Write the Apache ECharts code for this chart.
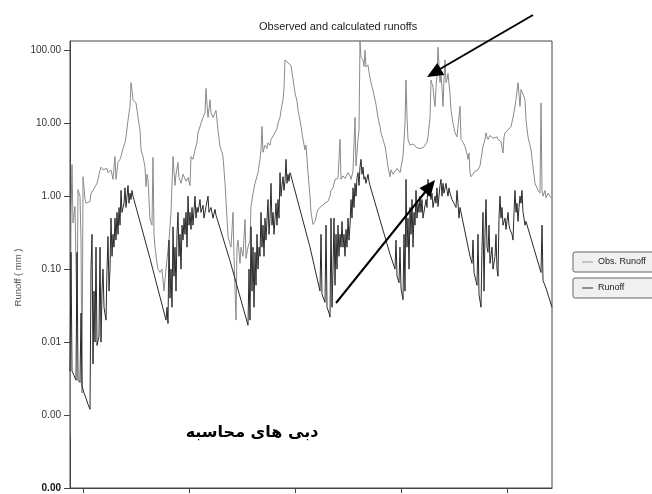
<!DOCTYPE html>
<html>
<head>
<meta charset="utf-8">
<script src="https://cdn.jsdelivr.net/npm/echarts@6/dist/echarts.min.js"></script>
<style>
  html, body { margin: 0; padding: 0; background: #fff; }
  #chart { width: 652px; height: 494px; }
</style>
</head>
<body>
<div id="chart"></div>
<script>
// Observed daily runoff (mm), [day, value]
const obsRunoff = [
  [0,0.0005],[5,0.53],[10,2.7],[15,0.43],[25,0.72],[35,0.02],[40,1.23],[50,1.0],[55,0.25],[60,0.002],[65,1.85],[75,0.9],[80,0.8],[90,0.8],[100,0.85],[105,1.1],[115,1.2],[125,1.25],[135,1.5],[140,1.7],[145,2.0],[155,2.5],[165,2.3],[175,2.2],[185,2.4],[190,2.1],[200,2.2],[205,2.3],[215,1.7],[225,3.5],[230,1.7],[240,2.9],[250,3.2],[255,3.5],[265,4.5],[275,5.4],[280,6.5],[290,11],[300,17],[305,36],[310,28],[315,21],[320,22],[330,19],[340,12],[350,8.1],[355,4.3],[365,3.5],[375,2.5],[380,1.36],[385,2.0],[390,1.7],[400,0.48],[410,0.4],[415,3.4],[420,0.3],[425,0.2],[435,0.12],[440,0.1],[450,0.09],[460,0.1],[470,0.05],[480,0.1],[490,0.1],[495,0.25],[505,0.6],[515,3.5],[525,1.4],[530,2.0],[540,2.9],[545,1.8],[555,1.5],[565,2.0],[575,2.1],[580,1.6],[590,1.8],[600,1.4],[605,3.5],[615,3.2],[625,4.3],[635,5.5],[640,7.4],[650,9],[655,10],[665,12],[675,13.8],[680,30],[685,18],[690,12],[700,21],[705,14],[715,12],[720,13],[730,15],[740,8],[750,4.8],[760,4.0],[765,3.5],[775,1.5],[785,0.5],[790,0.28],[800,0.22],[805,0.2],[815,0.6],[820,0.15],[830,0.02],[835,0.2],[840,0.25],[850,0.12],[855,0.2],[865,0.15],[875,0.48],[880,0.14],[890,0.2],[900,0.25],[905,0.72],[915,1.1],[925,1.5],[940,2.1],[950,3.2],[955,4.3],[960,9],[965,4.0],[975,5.0],[985,4.5],[990,5.4],[1000,5.0],[1005,6],[1015,6.2],[1025,7.4],[1035,8.5],[1040,10],[1050,12],[1055,15],[1065,21],[1070,30],[1075,74],[1080,70],[1090,67],[1100,65],[1105,62],[1115,59],[1125,26],[1135,20],[1140,15],[1150,11],[1155,9],[1165,6],[1175,4.3],[1180,5.0],[1190,2.1],[1200,1.0],[1205,0.6],[1215,0.41],[1225,0.45],[1235,0.6],[1240,0.66],[1250,0.7],[1255,0.72],[1265,0.75],[1275,0.8],[1290,0.85],[1300,1.0],[1305,1.2],[1315,1.3],[1325,1.7],[1330,1.6],[1340,1.75],[1350,6],[1355,1.7],[1365,1.9],[1375,1.75],[1390,2.1],[1400,1.9],[1405,1.7],[1415,2.2],[1425,12],[1430,2.6],[1440,6],[1445,8],[1450,134],[1455,80],[1465,74],[1470,60],[1475,100],[1480,59],[1490,63],[1495,50],[1505,36],[1515,28],[1525,21],[1530,18],[1540,12],[1550,9],[1555,7.4],[1565,6],[1575,4.8],[1580,4.0],[1590,2.5],[1600,1.85],[1605,2.3],[1615,2.0],[1625,2.1],[1635,2.4],[1640,2.3],[1650,2.1],[1655,2.1],[1665,3.5],[1675,10],[1680,39],[1685,12],[1690,6],[1700,5],[1705,4.8],[1715,5.2],[1725,5.4],[1735,4.6],[1740,4.8],[1750,4.5],[1755,4.3],[1765,4.6],[1775,4.8],[1785,5.5],[1790,6.5],[1800,12],[1805,39],[1815,31],[1820,22],[1825,17],[1830,31],[1835,45],[1840,110],[1845,60],[1850,36],[1855,48],[1860,30],[1865,17],[1870,40],[1875,74],[1880,36],[1885,40],[1890,48],[1900,25],[1905,15],[1915,10],[1925,7.4],[1935,6.5],[1940,6.5],[1950,17],[1955,6],[1965,5.5],[1975,4.8],[1985,3.8],[1990,3.2],[1995,3.9],[2000,2.1],[2005,1.85],[2015,2.0],[2025,2.2],[2040,2.3],[2050,2.6],[2055,3.2],[2065,4.8],[2075,6],[2080,7.4],[2085,6.5],[2090,6],[2100,6.8],[2105,6.5],[2115,6.2],[2125,6],[2135,6.5],[2140,6],[2150,6.2],[2155,5.6],[2165,3.9],[2170,6.5],[2175,7.4],[2185,7.8],[2190,8.1],[2200,8.5],[2205,9],[2215,12],[2225,17],[2230,21],[2240,36],[2245,25],[2250,17],[2255,29],[2265,25],[2275,21],[2280,11],[2290,6.5],[2300,5],[2305,4.3],[2315,2.5],[2325,1.5],[2335,1.3],[2340,1.2],[2350,1.1],[2355,19],[2360,1.2],[2365,1.0],[2375,1.2],[2380,0.95],[2390,1.1],[2400,1.0],[2405,0.95]
];

// Calculated daily runoff (mm), [day, value]
const calcRunoff = [
  [0,0.004],[5,0.17],[10,0.004],[20,0.0035],[30,0.003],[35,0.17],[40,0.003],[50,0.0028],[55,0.025],[60,0.0025],[70,0.002],[80,0.0017],[90,0.0014],[100,0.0012],[105,0.1],[110,0.3],[115,0.005],[120,0.05],[125,0.01],[130,0.2],[135,0.009],[145,0.012],[150,0.2],[155,0.01],[160,0.05],[165,0.1],[170,0.03],[180,0.02],[185,0.1],[190,0.28],[195,0.05],[200,0.1],[205,0.5],[210,0.15],[215,0.3],[220,0.2],[225,0.5],[230,0.25],[235,0.6],[240,0.3],[245,0.7],[250,0.4],[255,1.2],[260,0.6],[270,0.8],[275,1.3],[280,0.7],[285,1.0],[290,1.4],[295,0.8],[300,1.1],[305,0.9],[310,1.2],[315,1.0],[400,0.14],[480,0.02],[485,0.03],[490,0.018],[495,0.25],[500,0.04],[505,0.1],[510,0.03],[515,0.38],[520,0.08],[525,0.2],[530,0.05],[535,0.3],[540,0.6],[545,0.15],[550,0.3],[555,0.1],[560,0.4],[565,0.25],[570,0.5],[575,0.3],[580,0.6],[585,0.2],[590,1.0],[595,0.4],[600,0.6],[605,0.35],[610,0.7],[615,0.4],[625,1.0],[630,0.5],[635,0.7],[640,0.6],[650,0.9],[655,0.6],[665,0.75],[670,0.5],[680,0.72],[690,1.0],[695,0.6],[705,0.7],[715,0.5],[725,0.66],[730,0.55],[800,0.13],[890,0.017],[895,0.1],[900,0.02],[905,0.38],[910,0.05],[915,0.2],[920,0.03],[925,0.17],[930,0.06],[935,0.3],[940,0.1],[945,0.2],[950,0.15],[955,0.6],[960,0.2],[965,0.4],[970,0.15],[975,0.5],[980,0.25],[990,0.9],[995,0.3],[1000,0.5],[1005,1.5],[1010,0.4],[1015,0.6],[1020,0.3],[1030,0.8],[1035,0.4],[1040,0.9],[1045,0.5],[1050,2.1],[1055,1.0],[1060,1.4],[1065,1.85],[1070,1.2],[1075,1.6],[1080,3.2],[1085,1.5],[1090,2.0],[1095,1.6],[1100,2.1],[1105,1.9],[1200,0.2],[1250,0.05],[1255,0.3],[1260,0.045],[1275,0.035],[1280,0.4],[1285,0.03],[1295,0.025],[1300,0.022],[1305,0.5],[1310,0.03],[1315,0.1],[1320,0.5],[1325,0.06],[1330,0.3],[1335,0.1],[1340,0.4],[1345,0.15],[1350,0.3],[1355,0.2],[1360,0.45],[1365,0.2],[1370,0.3],[1375,0.15],[1380,0.35],[1385,0.2],[1390,0.5],[1395,0.25],[1400,0.4],[1405,0.9],[1410,0.5],[1415,1.3],[1420,0.7],[1425,1.5],[1430,1.0],[1435,1.8],[1440,2.1],[1445,1.4],[1450,2.5],[1455,3.2],[1460,2.0],[1465,2.5],[1470,1.7],[1475,1.85],[1480,1.5],[1490,2.0],[1495,1.6],[1500,1.4],[1505,1.36],[1600,0.16],[1625,0.1],[1630,0.25],[1635,0.08],[1645,0.065],[1650,0.2],[1655,0.055],[1665,0.038],[1670,0.3],[1675,0.05],[1680,1.7],[1685,0.2],[1690,0.5],[1695,0.1],[1700,0.7],[1705,0.3],[1710,0.9],[1715,0.2],[1720,0.6],[1725,0.4],[1730,1.2],[1735,0.5],[1740,0.8],[1745,0.6],[1750,1.0],[1755,0.6],[1760,0.9],[1765,0.5],[1775,0.48],[1780,0.9],[1785,0.7],[1790,1.7],[1795,1.0],[1800,1.3],[1805,0.9],[1810,1.1],[1815,0.7],[1825,1.0],[1830,0.8],[1835,1.3],[1840,0.72],[1845,1.0],[1850,1.4],[1855,1.7],[1860,1.0],[1865,1.5],[1870,1.1],[1880,1.5],[1885,1.2],[1890,1.0],[1895,1.3],[1900,1.1],[1910,0.9],[1920,0.8],[1930,0.7],[1935,1.2],[1940,0.8],[1945,0.5],[1950,0.7],[2000,0.15],[2010,0.12],[2015,0.25],[2020,0.09],[2035,0.06],[2040,0.3],[2045,0.045],[2055,0.03],[2060,0.2],[2065,0.6],[2070,0.05],[2075,0.3],[2080,0.9],[2085,0.2],[2090,0.17],[2095,0.4],[2100,0.12],[2110,0.2],[2115,0.1],[2125,0.15],[2130,0.3],[2135,0.1],[2140,0.08],[2145,0.5],[2150,1.0],[2155,0.5],[2160,0.7],[2165,0.4],[2175,0.5],[2180,0.35],[2190,0.6],[2195,0.4],[2200,0.35],[2210,0.3],[2215,0.25],[2220,0.6],[2225,1.2],[2230,0.6],[2235,0.8],[2240,0.45],[2245,0.7],[2250,1.0],[2255,0.8],[2260,1.2],[2265,0.6],[2270,0.5],[2275,0.4],[2280,0.45],[2355,0.09],[2360,0.4],[2365,0.07],[2380,0.055],[2410,0.03]
];

// Axis ticks
const yTicks = [0.0001, 0.001, 0.01, 0.1, 1, 10, 100];
const xTicks = [65, 595, 1125, 1655, 2185];

const FONT = 'Liberation Sans, Arial, sans-serif';

const chart = echarts.init(document.getElementById('chart'), null, { renderer: 'canvas' });

// Each legend entry sits in its own framed box
function legendBox(name, top) {
  return {
    data: [name],
    left: 573,
    top: top,
    orient: 'horizontal',
    selectedMode: false,
    icon: 'rect',
    backgroundColor: '#f0f0f0',
    borderColor: '#666',
    borderWidth: 1,
    borderRadius: 2,
    padding: [4, 30, 4, 9],
    itemWidth: 11,
    itemHeight: 1,
    textStyle: { fontSize: 9, color: '#222', fontFamily: FONT, lineHeight: 12 }
  };
}

chart.setOption({
  animation: false,
  backgroundColor: '#fff',
  title: {
    text: 'Observed and calculated runoffs',
    left: 254,
    top: 16,
    textStyle: { fontSize: 11, fontWeight: 'normal', color: '#222', fontFamily: FONT }
  },
  legend: [legendBox('Obs. Runoff', 252), legendBox('Runoff', 278)],
  grid: {
    left: 70, right: 100, top: 41, bottom: 6,
    show: true, borderColor: '#444', borderWidth: 1
  },
  xAxis: {
    type: 'value',
    min: 0,
    max: 2410,
    axisLine: { lineStyle: { color: '#444', width: 1 } },
    axisTick: { show: true, length: 5, customValues: xTicks, lineStyle: { color: '#444' } },
    axisLabel: { show: false },
    splitLine: { show: false }
  },
  yAxis: {
    type: 'log',
    logBase: 10,
    min: 0.0001,
    max: 134,
    name: 'Runoff ( mm )',
    nameLocation: 'middle',
    nameGap: 47,
    nameMoveOverlap: false,
    nameTextStyle: { fontSize: 9.5, color: '#555', fontFamily: FONT, padding: [0, 26, 0, 0] },
    axisLine: { show: true, lineStyle: { color: '#444', width: 1 } },
    axisTick: { show: true, length: 6, customValues: yTicks, lineStyle: { color: '#444' } },
    axisLabel: {
      customValues: yTicks,
      margin: 9,
      fontSize: 10,
      color: '#333',
      fontFamily: FONT,
      formatter: function (v) {
        const s = Number(v).toFixed(2);
        return v < 0.0005 ? '{b|' + s + '}' : s;
      },
      rich: { b: { fontSize: 10, fontWeight: 'bold', color: '#111', fontFamily: FONT } }
    },
    splitLine: { show: false }
  },
  series: [
    {
      name: 'Obs. Runoff',
      type: 'line',
      data: obsRunoff,
      symbol: 'none',
      lineStyle: { color: '#8a8a8a', width: 1 },
      itemStyle: { color: '#999' },
      z: 2
    },
    {
      name: 'Runoff',
      type: 'line',
      data: calcRunoff,
      symbol: 'none',
      lineStyle: { color: '#2a2a2a', width: 1 },
      itemStyle: { color: '#333' },
      z: 3
    }
  ],
  graphic: [
    { type: 'line', shape: { x1: 533, y1: 15, x2: 440, y2: 69 }, style: { stroke: '#000', lineWidth: 2 }, z: 100 },
    { type: 'polygon', shape: { points: [[427, 77], [437.3, 62.9], [444.3, 74.9]] }, style: { fill: '#000' }, z: 100 },
    { type: 'line', shape: { x1: 336, y1: 303, x2: 426, y2: 191 }, style: { stroke: '#000', lineWidth: 2 }, z: 100 },
    { type: 'polygon', shape: { points: [[435, 180], [419.5, 188.1], [430.5, 196.9]] }, style: { fill: '#000' }, z: 100 },
    {
      type: 'text', x: 252, y: 433, z: 100,
      style: {
        text: 'دبی های محاسبه',
        font: 'bold 16px "DejaVu Sans"',
        textAlign: 'center',
        textVerticalAlign: 'middle',
        fill: '#000'
      }
    }
  ]
});
</script>
</body>
</html>
